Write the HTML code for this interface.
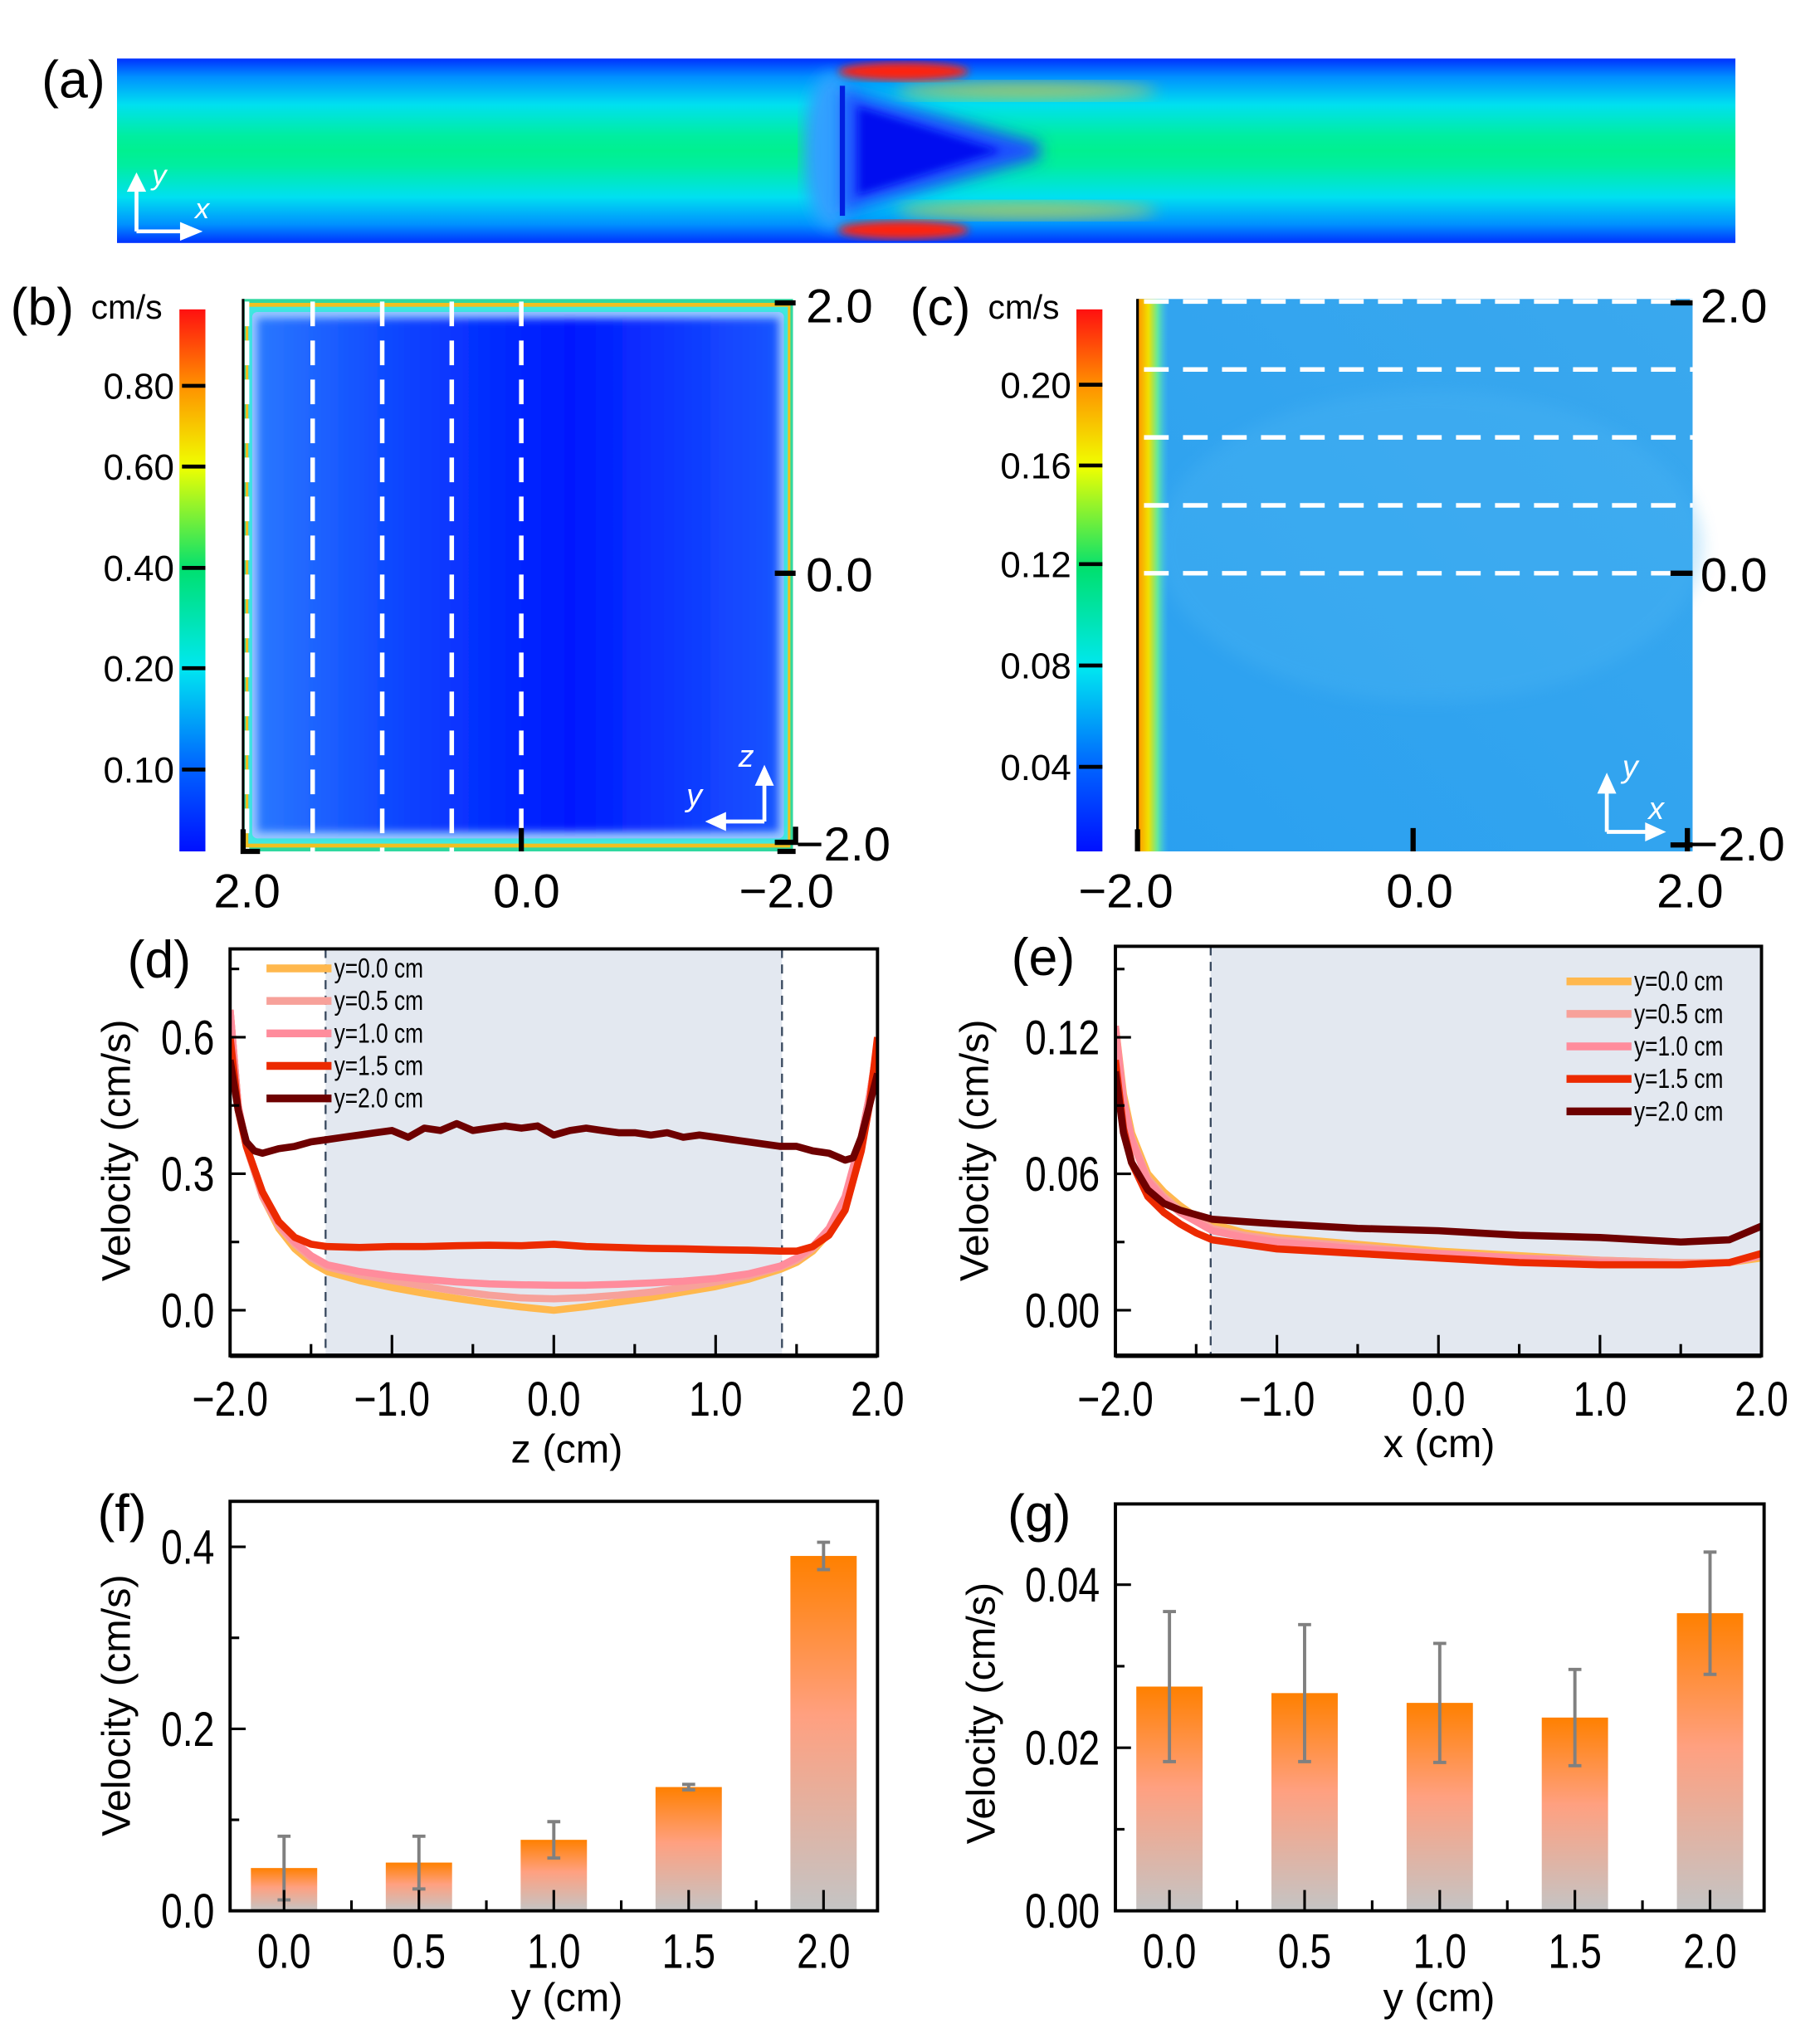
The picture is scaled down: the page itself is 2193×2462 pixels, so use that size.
<!DOCTYPE html>
<html><head><meta charset="utf-8">
<style>
html,body{margin:0;padding:0;background:#fff;}
svg{display:block;}
text{font-family:"Liberation Sans",sans-serif;}
</style></head>
<body>
<svg id="fig" xmlns="http://www.w3.org/2000/svg" width="2193" height="2462" viewBox="0 0 1400 1571.7" preserveAspectRatio="none">
<defs>
  <linearGradient id="jet" x1="0" y1="1" x2="0" y2="0">
    <stop offset="0" stop-color="#0010ff"/><stop offset="0.15" stop-color="#0060ff"/>
    <stop offset="0.34" stop-color="#00e8f0"/><stop offset="0.52" stop-color="#00e070"/>
    <stop offset="0.71" stop-color="#f0ff00"/><stop offset="0.86" stop-color="#ff9000"/>
    <stop offset="1" stop-color="#ff1010"/>
  </linearGradient>
  <linearGradient id="chanV" x1="0" y1="0" x2="0" y2="1">
    <stop offset="0" stop-color="#0030ff"/><stop offset="0.1" stop-color="#0090ff"/>
    <stop offset="0.25" stop-color="#00e0f0"/><stop offset="0.42" stop-color="#00eea0"/>
    <stop offset="0.5" stop-color="#00f090"/><stop offset="0.58" stop-color="#00eea0"/>
    <stop offset="0.75" stop-color="#00e0f0"/><stop offset="0.9" stop-color="#0090ff"/>
    <stop offset="1" stop-color="#0030ff"/>
  </linearGradient>
  <linearGradient id="bBlue" x1="0" y1="0" x2="1" y2="0">
    <stop offset="0" stop-color="#2a78ff"/><stop offset="0.3" stop-color="#0a40ff"/>
    <stop offset="0.6" stop-color="#0018ff"/><stop offset="1" stop-color="#1a55ff"/>
  </linearGradient>
  <linearGradient id="cBlue" x1="0" y1="1" x2="1" y2="0">
    <stop offset="0" stop-color="#2aa0f0"/><stop offset="1" stop-color="#3aa8ee"/>
  </linearGradient>
  <linearGradient id="cLeft" x1="0" y1="0" x2="1" y2="0">
    <stop offset="0" stop-color="#ff9000"/><stop offset="0.35" stop-color="#f0e000"/>
    <stop offset="0.65" stop-color="#60e8a0"/><stop offset="1" stop-color="#40c0f0" stop-opacity="0"/>
  </linearGradient>
  <linearGradient id="barGrad" x1="0" y1="0" x2="0" y2="1">
    <stop offset="0" stop-color="#ff8000"/><stop offset="0.45" stop-color="#ffa080"/>
    <stop offset="1" stop-color="#c4c4c4"/>
  </linearGradient>
  <filter id="blur6"><feGaussianBlur stdDeviation="6"/></filter>
  <filter id="blur3"><feGaussianBlur stdDeviation="3"/></filter>
  <clipPath id="clipA"><rect x="90" y="45" width="1245" height="142"/></clipPath>
  <clipPath id="clipD"><rect x="177" y="730" width="498" height="313"/></clipPath>
  <clipPath id="clipE"><rect x="858" y="728" width="497" height="315"/></clipPath>
</defs>

<!-- (a) -->
<text x="32" y="75" font-size="40">(a)</text>
<g clip-path="url(#clipA)">
  <rect x="90" y="45" width="1245" height="142" fill="url(#chanV)"/>
  <ellipse cx="640" cy="116" rx="22" ry="60" fill="#30a0ff" filter="url(#blur6)"/>
  <path d="M648,68 L800,110 L800,122 L648,164 Z" fill="#1a50ff" filter="url(#blur6)"/>
  <path d="M660,82 L770,116 L660,150 Z" fill="#0010f0" filter="url(#blur3)"/>
  <ellipse cx="790" cy="70" rx="100" ry="7" fill="#e0d030" opacity="0.7" filter="url(#blur6)"/>
  <ellipse cx="790" cy="162" rx="100" ry="7" fill="#e0d030" opacity="0.7" filter="url(#blur6)"/>
  <ellipse cx="695" cy="55" rx="50" ry="7" fill="#ff2010" filter="url(#blur3)"/>
  <ellipse cx="695" cy="177" rx="50" ry="7" fill="#ff2010" filter="url(#blur3)"/>
  <rect x="646" y="66" width="4" height="100" fill="#0020e0"/>
</g>
<g stroke="#fff" stroke-width="3" fill="none">
  <path d="M105,178 L105,142 M105,178 L145,178"/>
  <path d="M100,146 L105,136 L110,146 Z M140,173 L152,178 L140,183 Z" fill="#fff"/>
</g>
<text x="117" y="142" font-size="22" fill="#fff" font-style="italic" font-family="Liberation Serif">y</text>
<text x="150" y="168" font-size="22" fill="#fff" font-style="italic" font-family="Liberation Serif">x</text>

<!-- (b) -->
<text x="8" y="250" font-size="40">(b)</text>
<text x="70" y="245" font-size="26">cm/s</text>
<rect x="138" y="238" width="20" height="417" fill="url(#jet)"/>
<g id="cbB"></g>
<g>
  <rect x="187" y="230" width="423" height="425" fill="#30d8a0"/>
  <rect x="189" y="233" width="419" height="419" fill="#f0c020"/>
  <rect x="191" y="236" width="415" height="413" fill="#40e8e0"/>
  <rect x="194" y="240" width="409" height="405" fill="#9ac8ff" rx="4"/>
  <rect x="198" y="245" width="401" height="395" fill="url(#bBlue)" filter="url(#blur3)"/>
  <line x1="187" y1="230" x2="187" y2="655" stroke="#000" stroke-width="2"/>
</g>
<g id="dashB"></g>
<g stroke="#000" stroke-width="4" fill="none">
  <path d="M187,638 L187,655 L200,655"/>
  <path d="M401,637 L401,655"/>
  <path d="M596,233 L612,233 M596,441 L612,441 M596,648 L612,648 L612,636 M598,655 L612,655"/>
</g>
<g font-size="37">
  <text x="620" y="248">2.0</text><text x="620" y="455">0.0</text><text x="612" y="662">−2.0</text>
  <text x="190" y="698" text-anchor="middle">2.0</text><text x="405" y="698" text-anchor="middle">0.0</text><text x="605" y="698" text-anchor="middle">−2.0</text>
</g>
<g stroke="#fff" stroke-width="3" fill="none">
  <path d="M588,632 L588,598 M588,632 L552,632"/>
  <path d="M583,603 L588,592 L593,603 Z M557,627 L546,632 L557,637 Z" fill="#fff"/>
</g>
<text x="568" y="590" font-size="24" fill="#fff" font-style="italic" font-family="Liberation Serif">z</text>
<text x="528" y="620" font-size="24" fill="#fff" font-style="italic" font-family="Liberation Serif">y</text>

<!-- (c) -->
<text x="700" y="250" font-size="40">(c)</text>
<text x="760" y="245" font-size="26">cm/s</text>
<rect x="828" y="238" width="20" height="417" fill="url(#jet)"/>
<g id="cbC"></g>
<g>
  <rect x="875" y="230" width="427" height="425" fill="url(#cBlue)"/>
  <ellipse cx="1100" cy="420" rx="210" ry="120" fill="#50b8f4" opacity="0.3" filter="url(#blur6)"/>
  <rect x="875" y="230" width="24" height="425" fill="url(#cLeft)"/>
  <line x1="875" y1="230" x2="875" y2="655" stroke="#000" stroke-width="2"/>
</g>
<g id="dashC"></g>
<g stroke="#000" stroke-width="4" fill="none">
  <path d="M875,638 L875,655 M1087,637 L1087,655 M1298,637 L1298,655"/>
  <path d="M1285,233 L1302,233 M1285,441 L1302,441 M1285,650 L1302,650"/>
</g>
<g font-size="37">
  <text x="1308" y="248">2.0</text><text x="1308" y="455">0.0</text><text x="1300" y="662">−2.0</text>
  <text x="866" y="698" text-anchor="middle">−2.0</text><text x="1092" y="698" text-anchor="middle">0.0</text><text x="1300" y="698" text-anchor="middle">2.0</text>
</g>
<g stroke="#fff" stroke-width="3" fill="none">
  <path d="M1236,640 L1236,604 M1236,640 L1272,640"/>
  <path d="M1231,609 L1236,598 L1241,609 Z M1267,635 L1278,640 L1267,645 Z" fill="#fff"/>
</g>
<text x="1248" y="598" font-size="24" fill="#fff" font-style="italic" font-family="Liberation Serif">y</text>
<text x="1268" y="630" font-size="24" fill="#fff" font-style="italic" font-family="Liberation Serif">x</text>

<!-- (d) -->
<text x="98" y="752" font-size="40">(d)</text>
<g id="plotD"></g>
<text x="436" y="1125" font-size="31" text-anchor="middle">z (cm)</text>
<text transform="translate(100,885) rotate(-90)" font-size="31" text-anchor="middle">Velocity (cm/s)</text>

<!-- (e) -->
<text x="778" y="750" font-size="40">(e)</text>
<g id="plotE"></g>
<text x="1107" y="1121" font-size="31" text-anchor="middle">x (cm)</text>
<text transform="translate(760,885) rotate(-90)" font-size="31" text-anchor="middle">Velocity (cm/s)</text>

<!-- (f) -->
<text x="75" y="1178" font-size="40">(f)</text>
<g id="plotF"></g>
<text x="436" y="1547" font-size="31" text-anchor="middle">y (cm)</text>
<text transform="translate(100,1312) rotate(-90)" font-size="31" text-anchor="middle">Velocity (cm/s)</text>

<!-- (g) -->
<text x="775" y="1178" font-size="40">(g)</text>
<g id="plotG"></g>
<text x="1107" y="1547" font-size="31" text-anchor="middle">y (cm)</text>
<text transform="translate(765,1318) rotate(-90)" font-size="31" text-anchor="middle">Velocity (cm/s)</text>
</svg>

<script>
// ---- colorbar data ----
const cbBLabels = ["0.80","0.60","0.40","0.20","0.10"];
const cbBPos = [0.80,0.60,0.40,0.20,0.10];
const cbBKnotVals = [0,0.1,0.2,0.4,0.6,0.8,0.94];
const cbBKnotFrac = [0,0.151,0.338,0.523,0.71,0.859,1];
const cbCLabels = ["0.20","0.16","0.12","0.08","0.04"];
const cbCPos = [0.20,0.16,0.12,0.08,0.04];
const cbCKnotVals = [0,0.04,0.08,0.12,0.16,0.20,0.24];
const cbCKnotFrac = [0,0.156,0.343,0.53,0.712,0.861,1];
const sectionB = [2.0,1.5,1.0,0.5,0.0];
const sectionC = [2.0,1.5,1.0,0.5,0.0];

// ---- panel (d) data ----
const zGrid = [-2,-1.95,-1.9,-1.8,-1.7,-1.6,-1.5,-1.4,-1.2,-1.0,-0.8,-0.6,-0.4,-0.2,0,0.2,0.4,0.6,0.8,1.0,1.2,1.4,1.5,1.6,1.7,1.8,1.9,1.95,2.0];
const dY00 = [0.66,0.45,0.36,0.25,0.18,0.135,0.105,0.085,0.065,0.05,0.037,0.026,0.016,0.007,0.0,0.008,0.018,0.028,0.04,0.052,0.068,0.09,0.105,0.13,0.17,0.24,0.38,0.47,0.58];
const dY05 = [0.66,0.45,0.36,0.25,0.185,0.145,0.115,0.095,0.078,0.065,0.053,0.042,0.033,0.027,0.025,0.028,0.033,0.04,0.05,0.062,0.075,0.095,0.11,0.135,0.175,0.245,0.38,0.47,0.58];
const dY10 = [0.66,0.45,0.36,0.255,0.19,0.15,0.12,0.10,0.085,0.075,0.068,0.062,0.058,0.056,0.055,0.055,0.057,0.06,0.064,0.07,0.08,0.097,0.115,0.14,0.18,0.25,0.38,0.47,0.58];
const dY15 = [0.60,0.44,0.36,0.26,0.195,0.16,0.145,0.14,0.138,0.14,0.14,0.142,0.143,0.142,0.145,0.14,0.138,0.136,0.135,0.133,0.132,0.13,0.13,0.14,0.165,0.22,0.35,0.45,0.60];
const zGrid20 = [-2.0,-1.95,-1.9,-1.85,-1.8,-1.7,-1.6,-1.5,-1.4,-1.3,-1.2,-1.1,-1.0,-0.9,-0.8,-0.7,-0.6,-0.5,-0.4,-0.3,-0.2,-0.1,0,0.1,0.2,0.3,0.4,0.5,0.6,0.7,0.8,0.9,1.0,1.1,1.2,1.3,1.4,1.5,1.6,1.7,1.8,1.85,1.9,1.95,2.0];
const dY20 = [0.55,0.44,0.37,0.35,0.345,0.355,0.36,0.37,0.375,0.38,0.385,0.39,0.395,0.38,0.40,0.395,0.41,0.395,0.40,0.405,0.40,0.405,0.385,0.395,0.40,0.395,0.39,0.39,0.385,0.39,0.38,0.385,0.38,0.375,0.37,0.365,0.36,0.36,0.35,0.345,0.33,0.335,0.38,0.45,0.52];
const dXTicks = [-2.0,-1.0,0.0,1.0,2.0];
const dXTickLabels = ["−2.0","−1.0","0.0","1.0","2.0"];
const dYTicks = [0.0,0.3,0.6];
const dYTickLabels = ["0.0","0.3","0.6"];

// ---- panel (e) data ----
const xGrid = [-2,-1.95,-1.9,-1.8,-1.7,-1.6,-1.5,-1.4,-1.2,-1.0,-0.5,0,0.5,1.0,1.5,1.8,2.0];
const eY00 = [0.125,0.095,0.078,0.06,0.052,0.046,0.041,0.038,0.034,0.032,0.029,0.026,0.024,0.022,0.021,0.021,0.023];
const eY05 = [0.12,0.092,0.076,0.058,0.05,0.044,0.04,0.036,0.033,0.031,0.028,0.025,0.023,0.022,0.021,0.021,0.024];
const eY10 = [0.125,0.093,0.075,0.057,0.049,0.043,0.039,0.035,0.032,0.03,0.027,0.025,0.023,0.021,0.02,0.021,0.024];
const eY15 = [0.11,0.08,0.065,0.05,0.043,0.038,0.034,0.031,0.029,0.027,0.025,0.023,0.021,0.02,0.02,0.021,0.025];
const eY20 = [0.105,0.078,0.065,0.053,0.047,0.044,0.042,0.04,0.039,0.038,0.036,0.035,0.033,0.032,0.03,0.031,0.037];
const eXTicks = [-2.0,-1.0,0.0,1.0,2.0];
const eXTickLabels = ["−2.0","−1.0","0.0","1.0","2.0"];
const eYTicks = [0.0,0.06,0.12];
const eYTickLabels = ["0.00","0.06","0.12"];

// ---- legend ----
const seriesNames = ["y=0.0 cm","y=0.5 cm","y=1.0 cm","y=1.5 cm","y=2.0 cm"];
const seriesColors = ["#ffb84e","#f7a19a","#ff8c9c","#ec2a00","#6e0000"];

// ---- panel (f) data ----
const fCats = ["0.0","0.5","1.0","1.5","2.0"];
const fVals = [0.047,0.053,0.078,0.136,0.39];
const fErr = [0.035,0.029,0.02,0.003,0.015];
const fYTicks = [0.0,0.2,0.4];
const fYTickLabels = ["0.0","0.2","0.4"];

// ---- panel (g) data ----
const gCats = ["0.0","0.5","1.0","1.5","2.0"];
const gVals = [0.0275,0.0267,0.0255,0.0237,0.0365];
const gErr = [0.0092,0.0084,0.0073,0.0059,0.0075];
const gYTicks = [0.0,0.02,0.04];
const gYTickLabels = ["0.00","0.02","0.04"];

const NS = "http://www.w3.org/2000/svg";
function mk(tag, attrs, parent){
  const e = document.createElementNS(NS, tag);
  for (const k in attrs) e.setAttribute(k, attrs[k]);
  parent.appendChild(e);
  return e;
}
// condensed text (narrow font emulation)
function ntext(parent, x, y, str, size, anchor){
  const t = mk("text", {transform:`translate(${x},${y}) scale(0.8,1)`, "font-size":size, "text-anchor":anchor}, parent);
  t.textContent = str;
  return t;
}
function interp(v, xs, ys){
  for (let i = 1; i < xs.length; i++) {
    if (v <= xs[i]) return ys[i-1] + (v - xs[i-1]) / (xs[i] - xs[i-1]) * (ys[i] - ys[i-1]);
  }
  return ys[ys.length - 1];
}

// colorbars
function colorbar(gid, x0, x1, yBot, yTop, kv, kf, pos, labels, nm){
  const g = document.getElementById(gid);
  const sy = v => yBot - interp(v, kv, kf) * (yBot - yTop);
  pos.forEach((v, i) => {
    const y = sy(v);
    const l = mk("line", {x1:x0, x2:x1, y1:y, y2:y, stroke:"#000", "stroke-width":3}, g);
    
    
    const t = mk("text", {x:x0 - 6, y:y + 10, "font-size":28, "text-anchor":"end"}, g);
    t.textContent = labels[i];
    
    
  });
}
colorbar("cbB", 140, 158, 655, 238, cbBKnotVals, cbBKnotFrac, cbBPos, cbBLabels, "colorbar-b");
colorbar("cbC", 830, 848, 655, 238, cbCKnotVals, cbCKnotFrac, cbCPos, cbCLabels, "colorbar-c");

// section lines
(function(){
  const g = document.getElementById("dashB");
  const sx = v => 401 - v * (401 - 187) / 2.0;
  sectionB.forEach(v => {
    const x = v === 2.0 ? 190 : sx(v);
    const l = mk("line", {x1:x, x2:x, y1:232, y2:655, stroke:"#fff", "stroke-width":3.5, "stroke-dasharray":"19,11"}, g);
    
    
  });
  const gc = document.getElementById("dashC");
  const sy = v => 441 - v * (441 - 232) / 2.0;
  sectionC.forEach(v => {
    const y = sy(v);
    const l = mk("line", {x1:880, x2:1302, y1:y, y2:y, stroke:"#fff", "stroke-width":3.5, "stroke-dasharray":"19,11"}, gc);
    
    
  });
})();

function linePlot(gid, box, xr, yr, series, xTicks, xTickLabels, yTicks, yTickLabels, yMinor, xMinor, shadeX, clipId, legend){
  const g = document.getElementById(gid);
  const sx = v => box.x + (v - xr[0]) / (xr[1] - xr[0]) * box.w;
  const sy = v => box.y + box.h - (v - yr[0]) / (yr[1] - yr[0]) * box.h;
  const sh = mk("rect", {x:sx(shadeX[0]), y:box.y, width:sx(shadeX[1]) - sx(shadeX[0]), height:box.h, fill:"#e3e8f0"}, g);
  
  
  shadeX.forEach(v => {
    if (v <= xr[0] || v >= xr[1]) return;
    const l = mk("line", {x1:sx(v), x2:sx(v), y1:box.y, y2:box.y + box.h, stroke:"#3a4a60", "stroke-width":1.5, "stroke-dasharray":"7,5"}, g);
    
    
  });
  const cg = mk("g", {"clip-path":"url(#" + clipId + ")"}, g);
  series.forEach((s, i) => {
    const d = s.y.map((v, j) => (j ? "L" : "M") + sx(s.x[j]).toFixed(1) + "," + sy(v).toFixed(1)).join(" ");
    const p = mk("path", {d:d, fill:"none", stroke:seriesColors[i], "stroke-width":5.5, "stroke-linejoin":"round"}, cg);
    
    
  });
  const fr = mk("rect", {x:box.x, y:box.y, width:box.w, height:box.h, fill:"none", stroke:"#000", "stroke-width":2.5}, g);
  
  
  const bl = mk("line", {x1:box.x, x2:box.x + box.w, y1:box.y + box.h, y2:box.y + box.h, stroke:"#000", "stroke-width":3.5}, g);
  
  
  xTicks.forEach((v, i) => {
    const x = sx(v);
    const tk = mk("line", {x1:x, x2:x, y1:box.y + box.h, y2:box.y + box.h - 16, stroke:"#000", "stroke-width":2}, g);
    
    
    const t = ntext(g, x, box.y + box.h + 46, xTickLabels[i], 37, "middle");
    
    
  });
  xMinor.forEach(v => {
    const tk = mk("line", {x1:sx(v), x2:sx(v), y1:box.y + box.h, y2:box.y + box.h - 9, stroke:"#000", "stroke-width":2}, g);
    
    
  });
  yTicks.forEach((v, i) => {
    const y = sy(v);
    const tk = mk("line", {x1:box.x, x2:box.x + 12, y1:y, y2:y, stroke:"#000", "stroke-width":2}, g);
    
    
    const t = ntext(g, box.x - 12, y + 13, yTickLabels[i], 37, "end");
    
    
  });
  yMinor.forEach(v => {
    const tk = mk("line", {x1:box.x, x2:box.x + 7, y1:sy(v), y2:sy(v), stroke:"#000", "stroke-width":2}, g);
    
    
  });
  seriesNames.forEach((n, i) => {
    const y = legend.y + i * legend.dy;
    const l = mk("line", {x1:legend.x, x2:legend.x + 50, y1:y, y2:y, stroke:seriesColors[i], "stroke-width":6}, g);
    
    
    const t = ntext(g, legend.x + 52, y + 7, n, 21, "start");
    
    
  });
}

linePlot("plotD", {x:177, y:730, w:498, h:313}, [-2, 2], [-0.1, 0.794],
  [{x:zGrid, y:dY00}, {x:zGrid, y:dY05}, {x:zGrid, y:dY10}, {x:zGrid, y:dY15}, {x:zGrid20, y:dY20}],
  dXTicks, dXTickLabels, dYTicks, dYTickLabels, [0.15, 0.45, 0.75], [-1.5, -0.5, 0.5, 1.5],
  [-1.41, 1.41], "clipD", {x:205, y:745, dy:25});

linePlot("plotE", {x:858, y:728, w:497, h:315}, [-2, 2], [-0.02, 0.16],
  [{x:xGrid, y:eY00}, {x:xGrid, y:eY05}, {x:xGrid, y:eY10}, {x:xGrid, y:eY15}, {x:xGrid, y:eY20}],
  eXTicks, eXTickLabels, eYTicks, eYTickLabels, [0.03, 0.09, 0.15], [-1.5, -0.5, 0.5, 1.5],
  [-1.41, 2.0], "clipE", {x:1205, y:755, dy:25});

function barPlot(gid, box, ymax, cats, vals, errs, yTicks, yTickLabels, yMinor){
  const g = document.getElementById(gid);
  const n = cats.length;
  const step = box.w / (n - 0.2);
  const sx = i => box.x + step * (i + 0.4);
  const sy = v => box.y + box.h - v / ymax * box.h;
  const bw = 51;
  vals.forEach((v, i) => {
    const r = mk("rect", {x:sx(i) - bw / 2, y:sy(v), width:bw, height:sy(0) - sy(v), fill:"url(#barGrad)"}, g);
    
    
  });
  vals.forEach((v, i) => {
    const x = sx(i), yt = sy(v + errs[i]), yb = sy(v - errs[i]);
    const e = mk("path", {d:`M${x},${yt} L${x},${yb} M${x - 5},${yt} L${x + 5},${yt} M${x - 5},${yb} L${x + 5},${yb}`, stroke:"#808080", "stroke-width":2.5, fill:"none"}, g);
    
    
  });
  const fr = mk("rect", {x:box.x, y:box.y, width:box.w, height:box.h, fill:"none", stroke:"#000", "stroke-width":2.5}, g);
  
  
  cats.forEach((c, i) => {
    const x = sx(i);
    const tk = mk("line", {x1:x, x2:x, y1:box.y + box.h, y2:box.y + box.h - 16, stroke:"#000", "stroke-width":2}, g);
    
    
    const t = ntext(g, x, box.y + box.h + 44, c, 37, "middle");
    
    
    if (i < n - 1) {
      const m = mk("line", {x1:x + step / 2, x2:x + step / 2, y1:box.y + box.h, y2:box.y + box.h - 8, stroke:"#000", "stroke-width":2}, g);
      
      
    }
  });
  yTicks.forEach((v, i) => {
    const y = sy(v);
    const tk = mk("line", {x1:box.x, x2:box.x + 12, y1:y, y2:y, stroke:"#000", "stroke-width":2}, g);
    
    
    const t = ntext(g, box.x - 12, y + 13, yTickLabels[i], 37, "end");
    
    
  });
  yMinor.forEach(v => {
    const tk = mk("line", {x1:box.x, x2:box.x + 7, y1:sy(v), y2:sy(v), stroke:"#000", "stroke-width":2}, g);
    
    
  });
}
barPlot("plotF", {x:177, y:1155, w:498, h:315}, 0.45, fCats, fVals, fErr, fYTicks, fYTickLabels, [0.1, 0.3]);
barPlot("plotG", {x:858, y:1157, w:499, h:313}, 0.0499, gCats, gVals, gErr, gYTicks, gYTickLabels, [0.01, 0.03]);
</script>
</body></html>
